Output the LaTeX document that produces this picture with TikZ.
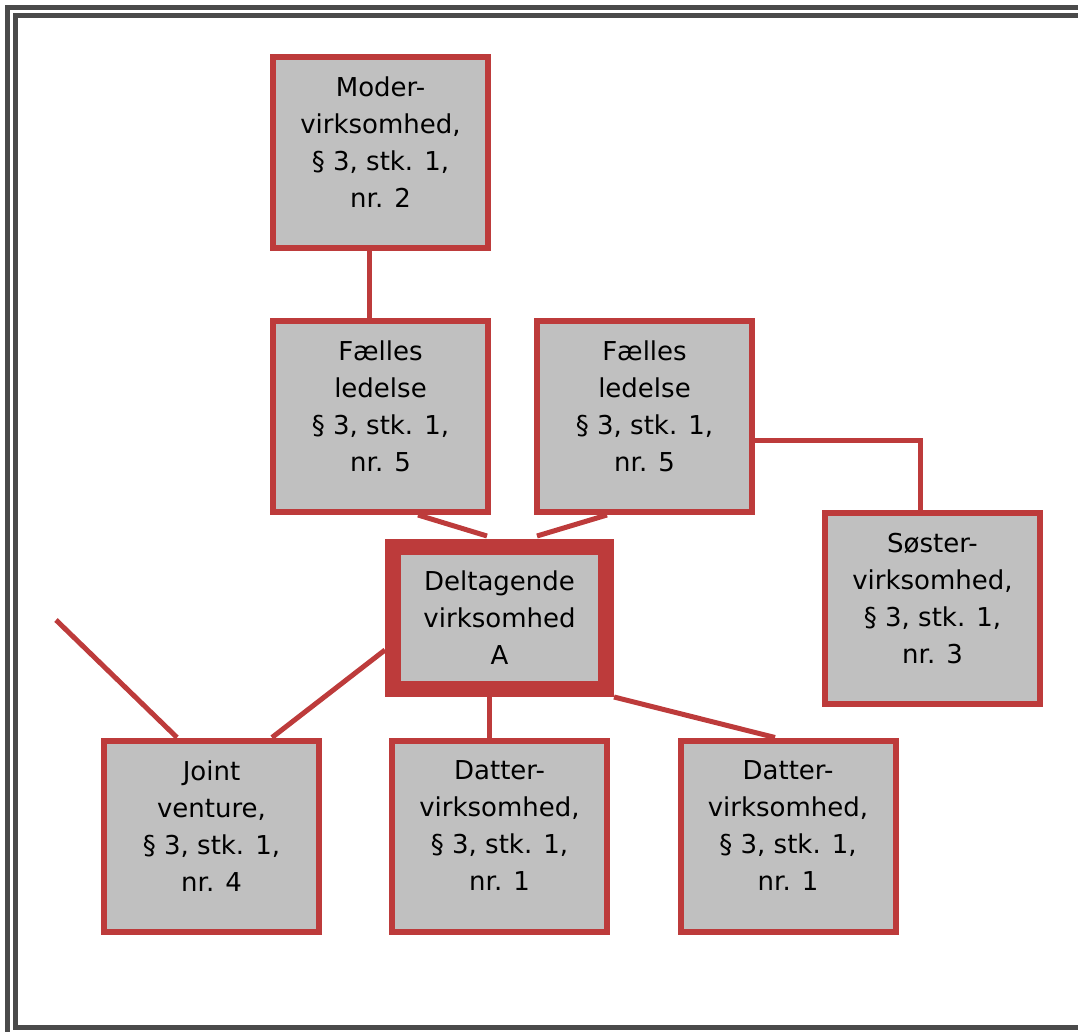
\documentclass[tikz,border=0pt]{standalone}
\usepackage{fontspec}
\setmainfont{DejaVu Sans}
\usetikzlibrary{positioning}
\definecolor{boxred}{HTML}{BD3B3B}
\definecolor{boxgrey}{HTML}{C0C0C0}
\definecolor{framegrey}{HTML}{4A4A4A}

\begin{document}
\begin{tikzpicture}[
      x=1pt,y=-1pt,
      box/.style={draw=boxred,fill=boxgrey,line width=6pt,inner sep=0pt,
        minimum width=215pt,minimum height=191pt,align=center,
        font=\fontsize{26}{37}\selectfont,text depth=20pt},
      mainbox/.style={box,line width=16pt,minimum width=213pt,minimum height=142pt,text depth=0pt},
      link/.style={draw=boxred,line width=5pt},
      frame/.style={draw=framegrey,line width=5pt},
      ]
      \useasboundingbox (0,0) rectangle (1078,1032);
      \clip (0,0) rectangle (1078,1032);
      \draw[frame] (7.5,7.5) rectangle (1100,1100);
      \draw[frame] (15.5,15.5) rectangle (1100,1027.5);

      \node[box] (moder) at (380.5,152.5) {Moder-\\virksomhed,\\§ 3, stk. 1,\\nr. 2};
      \node[box] (faelles1) at (380.5,416.5) {Fælles\\ledelse\\§ 3, stk. 1,\\nr. 5};
      \node[box] (faelles2) at (644.5,416.5) {Fælles\\ledelse\\§ 3, stk. 1,\\nr. 5};
      \node[box] (soester) at (932.5,608.5) {Søster-\\virksomhed,\\§ 3, stk. 1,\\nr. 3};
      \node[mainbox] (delt) at (499.5,618) {Deltagende\\virksomhed\\A};
      \node[box] (joint) at (211.5,836) {Joint\\venture,\\§ 3, stk. 1,\\nr. 4};
      \node[box] (datter1) at (499.5,836) {Datter-\\virksomhed,\\§ 3, stk. 1,\\nr. 1};
      \node[box] (datter2) at (788,836) {Datter-\\virksomhed,\\§ 3, stk. 1,\\nr. 1};
      \coordinate (free) at (56,620);

      \draw[link] ([xshift=-11.5pt]moder.south) -- ([xshift=-11.5pt]faelles1.north);
      \draw[link] ([xshift=37.5pt]faelles1.south) -- ([xshift=-12.5pt,yshift=3pt]delt.north);
      \draw[link] ([xshift=-37.5pt]faelles2.south) -- ([xshift=37.5pt,yshift=3pt]delt.north);
      \draw[link] ([yshift=-23.5pt]faelles2.east) -| ([xshift=-12.5pt]soester.north);
      \draw[link] ([yshift=-32pt]delt.west) -- ([xshift=60.5pt]joint.north);
      \draw[link] (free) -- ([xshift=-34.5pt]joint.north);
      \draw[link] ([xshift=-10.5pt]delt.south) -- ([xshift=-10.5pt]datter1.north);
      \draw[link] (delt.south east) -- ([xshift=-13pt]datter2.north);
    \end{tikzpicture}
\end{document}
